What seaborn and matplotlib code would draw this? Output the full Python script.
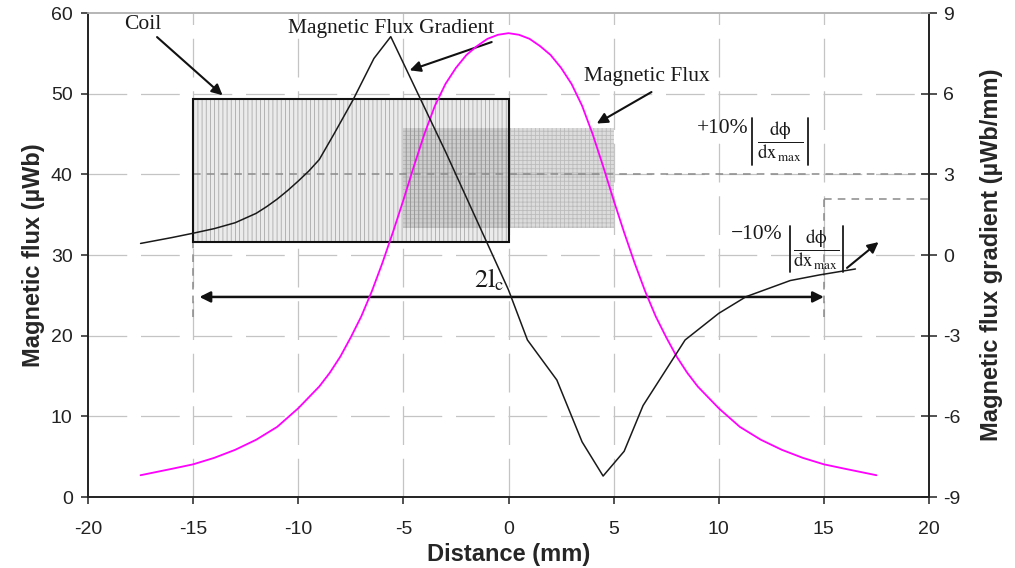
import numpy as np
import pandas as pd
import matplotlib
matplotlib.use("Agg")
import matplotlib.pyplot as plt
from matplotlib.patches import Rectangle
import seaborn as sns

# ---------------- data ----------------
flux_x = [-17.5, -16, -15, -14, -13, -12, -11, -10, -9, -8.5, -8, -7.5, -7, -6.5, -6, -5.5, -5,
          -4.5, -4, -3.5, -3, -2.5, -2, -1.5, -1, -0.5, 0,
          0.5, 1, 1.5, 2, 2.5, 3, 3.5, 4, 4.5, 5, 5.5, 6, 6.5, 7, 7.5, 8, 8.5, 9, 10, 11,
          12, 13, 14, 15, 16, 17.5]
flux_y = [2.7, 3.5, 4.05, 4.85, 5.85, 7.1, 8.7, 11.0, 13.7, 15.4, 17.4, 19.8, 22.4, 25.5, 29.0, 32.8, 36.8,
          41.0, 45.0, 48.5, 51.2, 53.2, 54.8, 55.9, 56.8, 57.3, 57.5,
          57.3, 56.8, 55.9, 54.8, 53.2, 51.2, 48.5, 45.0, 41.0, 36.8, 32.8, 29.0, 25.5, 22.4, 19.8, 17.4,
          15.4, 13.7, 11.0, 8.7, 7.1, 5.85, 4.85, 4.05, 3.5, 2.7]

grad_x = [-17.5, -16, -15, -14, -13, -12, -11.5, -11, -10.5, -10, -9.5, -9, -8.3, -7.4, -6.4, -5.6,
          -3, 0, 0.9, 2.3, 3.5, 4.5, 5.5, 6.4, 8.4, 10, 11.3, 13.4, 14.8, 16.5]
grad_y = [0.43, 0.65, 0.81, 0.98, 1.2, 1.55, 1.8, 2.08, 2.4, 2.75, 3.12, 3.55, 4.5, 5.76, 7.31, 8.12,
          3.85, -1.3, -3.16, -4.65, -6.95, -8.22, -7.3, -5.6, -3.16, -2.17, -1.55, -0.95, -0.74, -0.52]

coil_x = [-15, 0]
coil_y = [31.6, 49.3]
zone_x = [-5, 5]
zone_y = [33.4, 45.7]

x_ticks = [-20, -15, -10, -5, 0, 5, 10, 15, 20]
left_ticks = [0, 10, 20, 30, 40, 50, 60]
right_ticks = [-9, -6, -3, 0, 3, 6, 9]

plus_level = 40.0      # left-axis units (= +3 on gradient axis)
minus_level = 36.9     # left-axis units
guide_bottom = 22.3
span_x = [-15, 15]
arrow_y = 24.8

# ---------------- style ----------------
sns.set_theme(style="white")
plt.rcParams['font.family'] = ['Liberation Sans', 'DejaVu Sans']
plt.rcParams['mathtext.fontset'] = 'stix'
plt.rcParams['hatch.linewidth'] = 0.6

fig = plt.figure(figsize=(10.15, 5.68), dpi=100)
ax = fig.add_axes([88/1015, 1-497/568, (929-88)/1015, (497-13)/568])
ax2 = ax.twinx()

grid_kw = dict(color='#c4c4c4', lw=0.9, dashes=(31, 11), zorder=0)
for xv in x_ticks[1:-1]:
    ax.axvline(xv, **grid_kw)
for yv in left_ticks[1:-1]:
    ax.axhline(yv, **grid_kw)

# coil
ax.add_patch(Rectangle((coil_x[0], coil_y[0]), coil_x[1]-coil_x[0], coil_y[1]-coil_y[0],
                       facecolor='#ebebeb', edgecolor='#aaaaaa', hatch='||||', lw=0, zorder=1))
ax.add_patch(Rectangle((coil_x[0], coil_y[0]), coil_x[1]-coil_x[0], coil_y[1]-coil_y[0],
                       facecolor='none', edgecolor='#111111', lw=1.5, zorder=3))
# sensing zone
ax.add_patch(Rectangle((zone_x[0], zone_y[0]), zone_x[1]-zone_x[0], zone_y[1]-zone_y[0],
                       facecolor=(0.55, 0.55, 0.55, 0.3), edgecolor=(0.5, 0.5, 0.5, 0.35),
                       hatch='++++', lw=0, zorder=2))

# guides
gkw = dict(color='#8a8a8a', lw=1.1, dashes=(5, 4), zorder=2)
ax.plot([span_x[0], 20], [plus_level, plus_level], **gkw)
ax.plot([span_x[0], span_x[0]], [guide_bottom, plus_level], **gkw)
ax.plot([span_x[1], span_x[1]], [guide_bottom, minus_level], **gkw)
ax.plot([span_x[1], 20], [minus_level, minus_level], **gkw)

df_flux = pd.DataFrame({'x': flux_x, 'y': flux_y})
df_grad = pd.DataFrame({'x': grad_x, 'y': grad_y})
sns.lineplot(data=df_flux, x='x', y='y', ax=ax, color='#ff00ff', lw=1.3, sort=False, zorder=4)
sns.lineplot(data=df_grad, x='x', y='y', ax=ax2, color='#1a1a1a', lw=1.1, sort=False, zorder=4)

ax.set_xlim(-20, 20)
ax.set_ylim(0, 60)
ax2.set_ylim(-9, 9)
ax.set_xticks(x_ticks)
ax.set_yticks(left_ticks)
ax2.set_yticks(right_ticks)
ax.set_xticklabels([str(v) for v in x_ticks])
ax.set_yticklabels([str(v) for v in left_ticks])
ax2.set_yticklabels([str(v) for v in right_ticks])

ax.set_xlabel('Distance (mm)', fontsize=17, fontweight='bold', labelpad=4)
ax.set_ylabel('Magnetic flux (µWb)', fontsize=17, fontweight='bold', labelpad=4)
ax2.set_ylabel('Magnetic flux gradient (µWb/mm)', fontsize=17, fontweight='bold', labelpad=14)

for a in (ax, ax2):
    for s in ('left', 'bottom', 'right'):
        a.spines[s].set_color('#222222')
        a.spines[s].set_linewidth(1.2)
    a.spines['top'].set_color('#b5b5b5')
    a.spines['top'].set_linewidth(1.2)
ax.tick_params(axis='both', labelsize=14, colors='#222222', direction='out', length=5, width=1.1,
               left=True, bottom=True)
ax.tick_params(axis='x', pad=12)
ax.tick_params(axis='y', pad=6)
ax2.tick_params(axis='y', labelsize=14, colors='#222222', direction='inout', length=12, width=1.1,
                right=True, pad=4)

# annotations
tf = dict(family=['Liberation Serif', 'DejaVu Serif'], fontsize=15.5, color='#1a1a1a')
akw = dict(arrowstyle='-|>', color='#111111', lw=1.5, mutation_scale=16, shrinkA=0, shrinkB=0)
ax.annotate('Coil', xy=(-13.6, 49.8), xytext=(-17.4, 58.6), ha='center', va='center',
            arrowprops=akw, **tf)
ax.annotate('Magnetic Flux Gradient', xy=(-4.7, 52.9), xytext=(-5.6, 58.1), ha='center', va='center', **tf)
ax.annotate('', xy=(-4.7, 52.9), xytext=(-0.8, 56.4), arrowprops=akw)
ax.annotate('Magnetic Flux', xy=(4.2, 46.3), xytext=(6.6, 52.1), ha='center', va='center', **tf)
ax.annotate('', xy=(4.2, 46.3), xytext=(6.8, 50.2), arrowprops=akw)
ax.annotate('', xy=(17.6, 31.6), xytext=(16.1, 28.4), arrowprops=akw)
ax.annotate('', xy=(span_x[0] + 0.3, arrow_y), xytext=(span_x[1], arrow_y),
            arrowprops=dict(arrowstyle='<|-|>', color='#111111', lw=1.8, mutation_scale=16,
                            shrinkA=0, shrinkB=0))
ax.text(-0.9, 26.9, r'$\mathrm{2l_c}$', ha='center', va='center', fontsize=19, color='#1a1a1a')

frac = r'$\dfrac{\mathrm{d\phi}}{\mathrm{dx}_{\,\mathrm{max}}}$'
bar_kw = dict(color='#1a1a1a', lw=1.3, zorder=5)
ax.text(8.96, 45.7, '+10%', ha='left', va='center', **tf)
ax.text(12.91, 44.1, frac, ha='center', va='center', fontsize=13.5, color='#1a1a1a')
ax.plot([11.58, 11.58], [41.1, 47.0], **bar_kw)
ax.plot([14.24, 14.24], [41.1, 47.0], **bar_kw)
ax.text(10.6, 32.5, '\u221210%', ha='left', va='center', **tf)
ax.text(14.65, 30.7, frac, ha='center', va='center', fontsize=13.5, color='#1a1a1a')
ax.plot([13.39, 13.39], [27.9, 33.6], **bar_kw)
ax.plot([15.91, 15.91], [27.9, 33.6], **bar_kw)

fig.savefig('out.png', dpi=100)
